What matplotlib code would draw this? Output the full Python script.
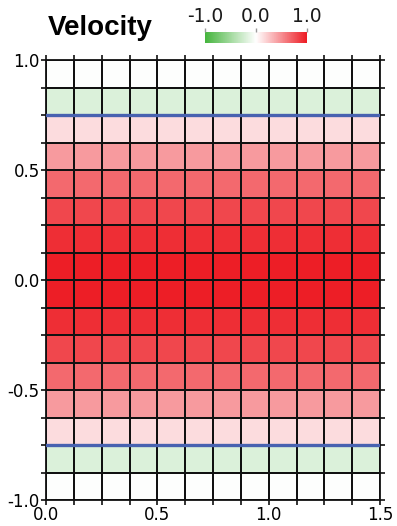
import numpy as np
import matplotlib
matplotlib.use("Agg")
import matplotlib.pyplot as plt
from matplotlib.colors import LinearSegmentedColormap

# grid edges
x_edges = np.linspace(0.0, 1.5, 13)
y_edges = np.linspace(-1.0, 1.0, 17)

# velocity per row, bottom to top (same across each row)
row_vel = [-0.015, -0.19, 0.15, 0.44, 0.66, 0.81, 0.92, 0.99,
           0.99, 0.92, 0.81, 0.66, 0.44, 0.15, -0.19, -0.015]
wall_y = [-0.75, 0.75]

x_ticks = [0.0, 0.5, 1.0, 1.5]
y_ticks = [-1.0, -0.5, 0.0, 0.5, 1.0]
cbar_ticks = [-1.0, 0.0, 1.0]

plt.rcParams['font.family'] = ['DejaVu Sans']

cmap = LinearSegmentedColormap.from_list(
    "gwr", ["#45b43d", "#ffffff", "#ed1c24"])

fig = plt.figure(figsize=(3.97, 5.26), dpi=100)
ax = fig.add_axes([46/397, 1-500/526, 334/397, 440/526])

vel = np.tile(np.array(row_vel)[:, None], (1, len(x_edges) - 1))
ax.pcolormesh(x_edges, y_edges, vel, cmap=cmap, vmin=-1, vmax=1,
              edgecolors="#111111", linewidth=1.3)
for yw in wall_y:
    ax.axhline(yw, color="#4862b0", lw=2.4, zorder=3)

ax.set_xlim(0, 1.5)
ax.set_ylim(-1, 1)
ax.set_xticks(x_edges, minor=True)
ax.set_yticks(y_edges, minor=True)
ax.set_xticks(x_ticks)
ax.set_yticks(y_ticks)
ax.set_xticklabels([f"{v:.1f}" for v in x_ticks])
ax.set_yticklabels([f"{v:.1f}" for v in y_ticks])
ax.tick_params(which="both", direction="out", length=3.5, width=1.2,
               color="#111111", top=True, right=True, labelsize=12, pad=1)
for s in ax.spines.values():
    s.set_linewidth(1.3)
    s.set_color("#111111")

fig.text(48/397, 1-28/526, "Velocity", fontsize=20, fontweight="bold",
         family="Liberation Sans", va="center", ha="left")

cax = fig.add_axes([205/397, 1-43/526, 102/397, 11/526])
sm = plt.cm.ScalarMappable(cmap=cmap, norm=plt.Normalize(-1, 1))
cb = fig.colorbar(sm, cax=cax, orientation="horizontal", ticklocation="top")
cb.set_ticks(cbar_ticks)
cb.set_ticklabels([f"{v:.1f}" for v in cbar_ticks])
cb.outline.set_visible(False)
cax.tick_params(length=3, width=1, color="#999999", labelsize=13.5, pad=1,
                labelcolor="#1a1a1a")

fig.savefig("out.png", dpi=100)
